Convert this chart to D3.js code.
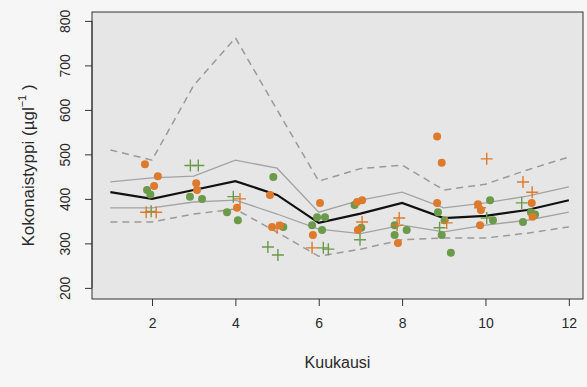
<!DOCTYPE html>
<html>
<head>
<meta charset="utf-8">
<script src="https://cdn.jsdelivr.net/npm/d3@7"></script>
<style>
  html, body { margin: 0; padding: 0; background: #f6f6f6; }
  svg { display: block; font-family: "Liberation Sans", Arial, sans-serif; }
</style>
</head>
<body>
<div class="chart"></div>
<script>
// months for the summary lines
const months = [1, 2, 3, 4, 5, 6, 7, 8, 9, 10, 11, 12];

// summary curves (ug/l)
const upperDashed = [510, 487, 655, 762, 600, 440, 468, 476, 420, 433, 465, 494];
const upperSolid  = [438, 447, 451, 487, 469, 370, 397, 415, 380, 391, 406, 427];
const median      = [415, 400, 420, 440, 409, 346, 367, 391, 357, 362, 375, 397];
const lowerSolid  = [380, 380, 393, 397, 366, 332, 322, 341, 326, 341, 352, 370];
const lowerDashed = [348, 348, 366, 377, 325, 271, 287, 308, 312, 312, 323, 337];

// observations: month position (with jitter) and value
const orangeDotX = [1.83, 2.14, 2.05, 3.06, 3.08, 4.04, 4.83, 4.88, 5.07, 6.03, 5.86, 6.92, 7.04, 6.94, 7.90, 8.84, 8.95, 8.84, 9.89, 9.87, 9.82, 11.13, 11.11];
const orangeDotY = [478, 451, 429, 435, 420, 380, 409, 337, 340, 391, 319, 393, 397, 330, 301, 540, 481, 391, 375, 341, 388, 360, 391];

const greenDotX = [1.88, 1.96, 2.91, 3.20, 3.80, 4.06, 4.91, 5.15, 5.96, 6.15, 5.84, 6.08, 6.86, 7.02, 7.82, 7.82, 8.11, 8.86, 9.02, 8.95, 9.17, 10.11, 10.18, 10.90, 11.09, 11.19];
const greenDotY = [420, 410, 405, 400, 370, 352, 449, 337, 359, 359, 341, 330, 386, 335, 341, 319, 330, 370, 352, 319, 279, 397, 352, 348, 370, 365];

const orangePlusX = [1.86, 2.10, 4.11, 5.00, 5.84, 7.04, 7.93, 7.88, 9.07, 10.03, 9.87, 10.90, 11.12];
const orangePlusY = [370, 370, 400, 335, 290, 348, 357, 341, 346, 490, 380, 438, 415];

const greenPlusX = [1.98, 2.92, 3.11, 3.95, 4.78, 5.02, 6.11, 6.23, 6.99, 8.90, 10.03, 10.87];
const greenPlusY = [372, 475, 475, 405, 292, 274, 290, 287, 308, 335, 357, 391];

const xTicks = [2, 4, 6, 8, 10, 12];
const yTicks = [200, 300, 400, 500, 600, 700, 800];

const width = 587, height = 387;
const plotLeft = 92, plotRight = 583, plotTop = 12, plotBottom = 299;

const orange = "#dd7a2c";
const green = "#6b9a4b";

const svg = d3.select(".chart")
  .append("svg")
  .attr("width", width)
  .attr("height", height);

const x = d3.scaleLinear().domain([0.56, 12.34]).range([plotLeft, plotRight]);
const y = d3.scaleLinear().domain([175, 820]).range([plotBottom, plotTop]);

// plot background
svg.append("rect")
  .attr("x", plotLeft).attr("y", plotTop)
  .attr("width", plotRight - plotLeft).attr("height", plotBottom - plotTop)
  .attr("fill", "#e6e6e6");

// summary lines
const line = d3.line().x((d, i) => x(months[i])).y(d => y(d));

const curves = [
  { data: upperDashed, color: "#9a9a9a", w: 1.5, dash: "7,5" },
  { data: lowerDashed, color: "#9a9a9a", w: 1.5, dash: "7,5" },
  { data: upperSolid, color: "#a3a3a3", w: 1.3, dash: null },
  { data: lowerSolid, color: "#a3a3a3", w: 1.3, dash: null },
  { data: median, color: "#111", w: 2.2, dash: null }
];

curves.forEach(c => {
  svg.append("path")
    .attr("d", line(c.data))
    .attr("fill", "none")
    .attr("stroke", c.color)
    .attr("stroke-width", c.w)
    .attr("stroke-dasharray", c.dash);
});

// points
function dots(xs, ys, color) {
  svg.append("g")
    .selectAll("circle")
    .data(xs)
    .enter()
    .append("circle")
    .attr("cx", d => x(d))
    .attr("cy", (d, i) => y(ys[i]))
    .attr("r", 4)
    .attr("fill", color);
}

function pluses(xs, ys, color) {
  svg.append("g")
    .selectAll("path")
    .data(xs)
    .enter()
    .append("path")
    .attr("d", "M-6,0H6M0,-6V6")
    .attr("transform", (d, i) => `translate(${x(d)},${y(ys[i])})`)
    .attr("stroke", color)
    .attr("stroke-width", 1.4)
    .attr("fill", "none");
}

dots(greenDotX, greenDotY, green);
dots(orangeDotX, orangeDotY, orange);
pluses(greenPlusX, greenPlusY, green);
pluses(orangePlusX, orangePlusY, orange);

// box
svg.append("rect")
  .attr("x", plotLeft).attr("y", plotTop)
  .attr("width", plotRight - plotLeft).attr("height", plotBottom - plotTop)
  .attr("fill", "none")
  .attr("stroke", "#333")
  .attr("stroke-width", 1);

// x axis
const xAxis = svg.append("g")
  .attr("transform", `translate(0,${plotBottom})`)
  .call(d3.axisBottom(x).tickValues(xTicks).tickSize(7).tickSizeOuter(0).tickPadding(12));
xAxis.select(".domain").remove();
xAxis.selectAll("line").attr("stroke", "#333");
xAxis.selectAll("text").attr("font-size", 14).attr("fill", "#2a2a2a")
  .attr("font-family", "Liberation Sans, Arial, sans-serif");

// y axis
const yAxis = svg.append("g")
  .attr("transform", `translate(${plotLeft},0)`)
  .call(d3.axisLeft(y).tickValues(yTicks).tickSize(7).tickSizeOuter(0).tickFormat(d3.format("d")));
yAxis.select(".domain").attr("d", `M0,${y(200)}V${y(800)}`).attr("stroke", "#333");
yAxis.selectAll("line").attr("stroke", "#333");
yAxis.selectAll("text")
  .attr("font-size", 14).attr("fill", "#2a2a2a")
  .attr("font-family", "Liberation Sans, Arial, sans-serif")
  .attr("x", null).attr("dy", null)
  .attr("text-anchor", "middle")
  .attr("transform", "translate(-26,0) rotate(-90)")
  .attr("dominant-baseline", "middle");

// titles
svg.append("text")
  .attr("x", (plotLeft + plotRight) / 2)
  .attr("y", 368)
  .attr("text-anchor", "middle")
  .attr("font-size", 16)
  .attr("fill", "#2a2a2a")
  .text("Kuukausi");

const yt = svg.append("text")
  .attr("transform", `translate(34,${(plotTop + plotBottom) / 2 + 10}) rotate(-90)`)
  .attr("text-anchor", "middle")
  .attr("font-size", 17)
  .attr("fill", "#2a2a2a");
yt.append("tspan").text("Kokonaistyppi (µgl");
yt.append("tspan").attr("font-size", 11).attr("dy", -8).text("−1");
yt.append("tspan").attr("dy", 8).text(" )");
</script>
</body>
</html>
